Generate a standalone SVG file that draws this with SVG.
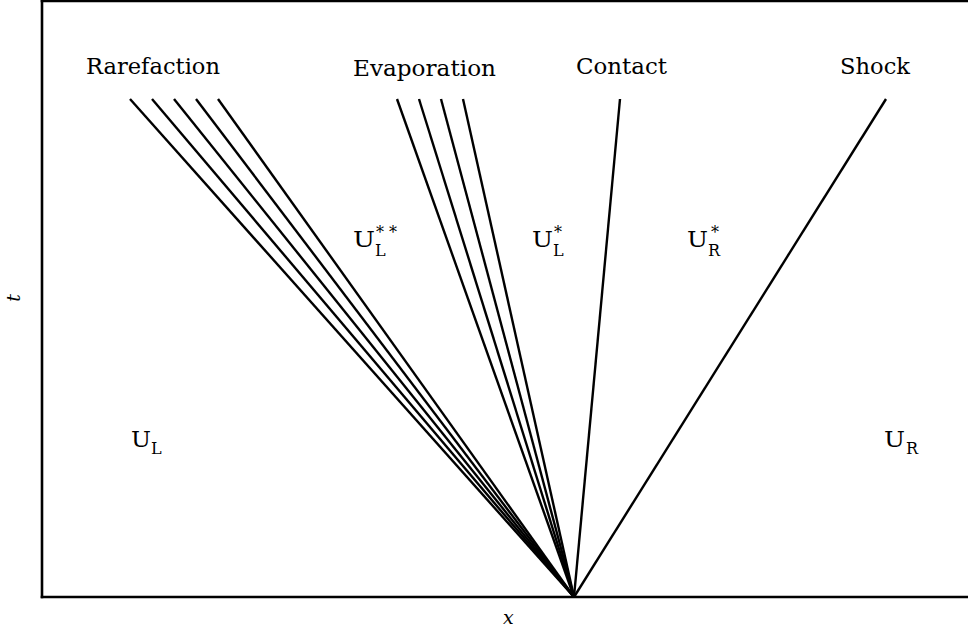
<svg xmlns="http://www.w3.org/2000/svg" width="968" height="632" viewBox="0 0 968 632">
<style>
  .ax { stroke:#000; stroke-width:2.6; fill:none; stroke-linecap:square; }
  .wv { stroke:#000; stroke-width:2.4; fill:none; stroke-linecap:butt; }
  text { font-family:'DejaVu Serif','Liberation Serif',serif; fill:#000; }
  .lbl { font-size:23px; }
  .st { font-size:23px; }
  .sub { font-size:16px; }
  .ital { font-style:italic; font-size:19px; }
</style>
<rect width="968" height="632" fill="#fff"/>
<g id="frame">
  <line class="ax" x1="42" y1="1" x2="968" y2="1"/>
  <line class="ax" x1="42" y1="1" x2="42" y2="597"/>
  <line class="ax" x1="42" y1="597" x2="968" y2="597"/>
</g>
<g id="connectors">
  <line class="wv" x1="130" y1="99" x2="574" y2="597"/>
  <line class="wv" x1="152" y1="99" x2="574" y2="597"/>
  <line class="wv" x1="174" y1="99" x2="574" y2="597"/>
  <line class="wv" x1="196" y1="99" x2="574" y2="597"/>
  <line class="wv" x1="218" y1="99" x2="574" y2="597"/>
  <line class="wv" x1="397" y1="99" x2="574" y2="597"/>
  <line class="wv" x1="419" y1="99" x2="574" y2="597"/>
  <line class="wv" x1="441" y1="99" x2="574" y2="597"/>
  <line class="wv" x1="463" y1="99" x2="574" y2="597"/>
  <line class="wv" x1="620" y1="99" x2="574" y2="597"/>
  <line class="wv" x1="886" y1="99" x2="574" y2="597"/>
</g>
<g id="rarefaction"><text class="lbl" x="86" y="74" textLength="134" lengthAdjust="spacingAndGlyphs">Rarefaction</text></g>
<g id="evaporation"><text class="lbl" x="353" y="76" textLength="143" lengthAdjust="spacingAndGlyphs">Evaporation</text></g>
<g id="contact"><text class="lbl" x="576" y="74" textLength="91" lengthAdjust="spacingAndGlyphs">Contact</text></g>
<g id="shock"><text class="lbl" x="840" y="74" textLength="70" lengthAdjust="spacingAndGlyphs">Shock</text></g>
<g id="ULss">
  <text class="st" x="353" y="247" textLength="22" lengthAdjust="spacingAndGlyphs">U</text>
  <text class="sub" x="375" y="256">L</text>
  <text class="sub" x="376" y="238">* *</text>
</g>
<g id="ULs">
  <text class="st" x="532" y="247" textLength="21" lengthAdjust="spacingAndGlyphs">U</text>
  <text class="sub" x="553" y="256">L</text>
  <text class="sub" x="554" y="238">*</text>
</g>
<g id="URs">
  <text class="st" x="687" y="247" textLength="21" lengthAdjust="spacingAndGlyphs">U</text>
  <text class="sub" x="708" y="256">R</text>
  <text class="sub" x="711" y="238">*</text>
</g>
<g id="UL">
  <text class="st" x="131" y="447" textLength="20" lengthAdjust="spacingAndGlyphs">U</text>
  <text class="sub" x="151" y="454">L</text>
</g>
<g id="UR">
  <text class="st" x="884" y="447" textLength="21" lengthAdjust="spacingAndGlyphs">U</text>
  <text class="sub" x="906" y="454">R</text>
</g>
<g id="xlabel"><text class="ital" x="503" y="624">x</text></g>
<g id="tlabel"><text class="ital" transform="translate(20,298) rotate(-90)" text-anchor="middle">t</text></g>
</svg>
